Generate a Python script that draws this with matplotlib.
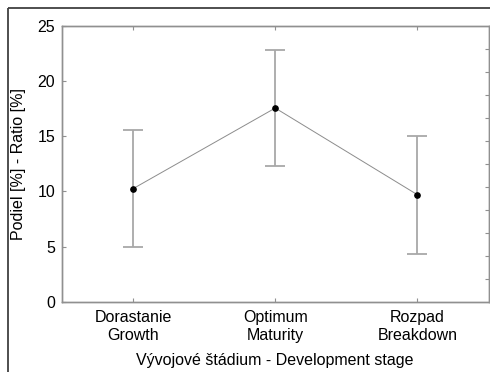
import matplotlib
matplotlib.use("Agg")
import matplotlib.pyplot as plt
from matplotlib.lines import Line2D

plt.rcParams['font.family'] = ['Liberation Sans', 'DejaVu Sans']

# data
stages = ["Dorastanie\nGrowth", "Optimum\nMaturity", "Rozpad\nBreakdown"]
means = [10.25, 17.56, 9.70]
errors = [5.33, 5.30, 5.35]
y_ticks = [0, 5, 10, 15, 20, 25]

fig = plt.figure(figsize=(4.9, 3.72), dpi=100)
ax = fig.add_axes([62 / 490, 70.3 / 372, 426.5 / 490, 275.7 / 372])

x = list(range(len(stages)))
ax.plot(x, means, color="#8c8c8c", lw=0.7, zorder=2)
ax.errorbar(x, means, yerr=errors, fmt="none", ecolor="#a8a8a8",
            elinewidth=1.3, capsize=7, capthick=1.3, zorder=1)
ax.plot(x, means, "o", color="black", ms=3.8, zorder=3)

ax.set_xlim(-0.5, 2.5)
ax.set_ylim(0, 25)
ax.set_xticks(x)
ax.set_xticklabels(stages, fontsize=11.5, linespacing=1.25)
ax.set_yticks(y_ticks)
ax.tick_params(axis="both", direction="in", length=3, width=0.8,
               color="#909090", labelsize=11.5, top=True)
ax.tick_params(axis="y", pad=5)
ax.tick_params(axis="x", pad=6)
for s in ax.spines.values():
    s.set_color("#909090")
    s.set_linewidth(1.0)

ax.set_xlabel("Vývojové štádium - Development stage", fontsize=11.5, labelpad=7)
ax.set_ylabel("Podiel [%] - Ratio [%]", fontsize=11.5, labelpad=8)

# right axis has its own 12 divisions, no labels
ax2 = ax.twinx()
ax2.set_ylim(0, 12)
ax2.set_yticks(range(1, 12))
ax2.set_yticklabels([])
ax2.tick_params(axis="y", direction="in", length=3, width=0.8, color="#909090")
for s in ax2.spines.values():
    s.set_color("#909090")
    s.set_linewidth(1.0)

# outer frame: only the top and left edges are inside the picture
fx = 7.5 / 490
fy = (372 - 7.5) / 372
fig.add_artist(Line2D([fx, 1.05], [fy, fy], transform=fig.transFigure,
                      color="#404040", lw=1.3, solid_capstyle="butt"))
fig.add_artist(Line2D([fx, fx], [-0.05, fy], transform=fig.transFigure,
                      color="#404040", lw=1.3, solid_capstyle="butt"))

fig.savefig("out.png", dpi=100)
